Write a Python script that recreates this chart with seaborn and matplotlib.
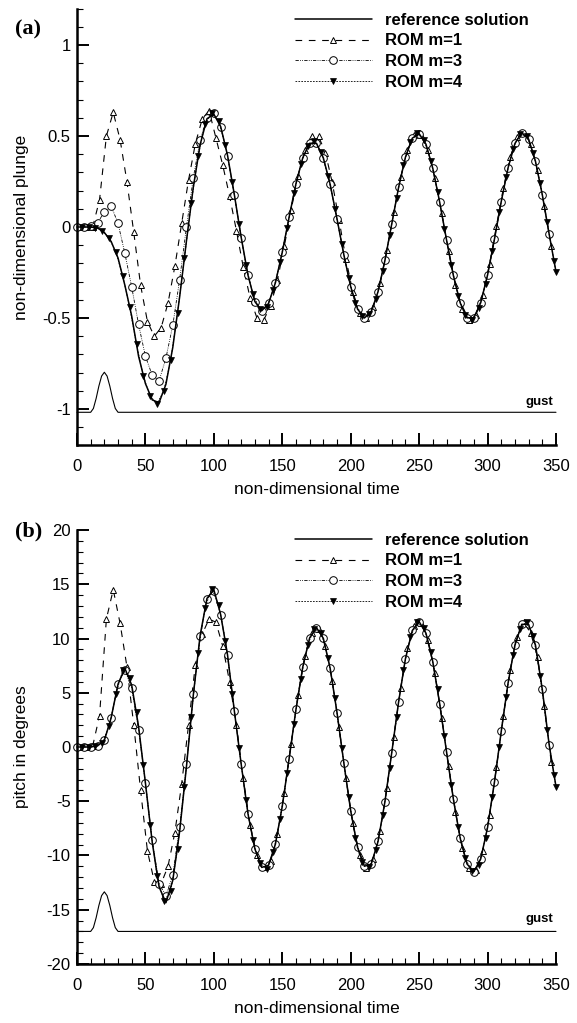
import numpy as np
import matplotlib
matplotlib.use("Agg")
import matplotlib.pyplot as plt
from matplotlib.ticker import MultipleLocator
import seaborn as sns

# sample times of each series (markers sit on every sample)
T_REF = np.arange(0, 351, 5)
T_M3 = np.arange(0, 346, 5)
T_M1 = np.arange(1.5, 350, 5)
T_M4 = np.append(np.arange(3.5, 350, 5), 350)
GUST_T = [0, 10, 12, 14, 16, 18, 20, 22, 24, 26, 28, 30, 350]

# (a) non-dimensional plunge
PLUNGE_REF = [0, 0, 0, -0.005, -0.03, -0.08, -0.17, -0.32, -0.49, -0.71,
              -0.86, -0.95, -0.965, -0.864, -0.662, -0.385, -0.076, 0.219, 0.453, 0.595,
              0.62, 0.552, 0.394, 0.177, -0.058, -0.266, -0.41, -0.46, -0.42, -0.306,
              -0.139, 0.054, 0.238, 0.381, 0.46, 0.46, 0.38, 0.234, 0.045, -0.153,
              -0.328, -0.451, -0.5, -0.466, -0.355, -0.184, 0.017, 0.218, 0.384, 0.488,
              0.513, 0.455, 0.322, 0.137, -0.07, -0.266, -0.417, -0.499, -0.499, -0.416,
              -0.264, -0.068, 0.14, 0.326, 0.459, 0.518, 0.483, 0.361, 0.177, -0.039,
              -0.246]
PLUNGE_M1 = [0, 0, 0, 0.15, 0.5, 0.63, 0.48, 0.25, -0.03, -0.32,
             -0.52, -0.6, -0.553, -0.418, -0.217, 0.02, 0.257, 0.458, 0.593, 0.64,
             0.49, 0.34, 0.17, -0.02, -0.22, -0.39, -0.5, -0.51, -0.433, -0.291,
             -0.105, 0.095, 0.281, 0.423, 0.5, 0.498, 0.409, 0.245, 0.038, -0.175,
             -0.356, -0.47, -0.498, -0.44, -0.309, -0.125, 0.08, 0.273, 0.423, 0.504,
             0.504, 0.422, 0.27, 0.075, -0.132, -0.317, -0.45, -0.51, -0.482, -0.374,
             -0.202, 0.005, 0.212, 0.384, 0.492, 0.518, 0.455, 0.311, 0.114, -0.103]
PLUNGE_M3 = [0, 0, 0.005, 0.02, 0.085, 0.115, 0.02, -0.145, -0.33, -0.535,
             -0.71, -0.815, -0.845, -0.72, -0.54, -0.29, 0.0, 0.27, 0.48, 0.6,
             0.625, 0.55, 0.39, 0.175, -0.06, -0.265, -0.41, -0.46, -0.42, -0.306,
             -0.139, 0.054, 0.238, 0.381, 0.46, 0.46, 0.38, 0.234, 0.045, -0.153,
             -0.328, -0.451, -0.5, -0.466, -0.355, -0.184, 0.017, 0.218, 0.384, 0.488,
             0.513, 0.455, 0.322, 0.137, -0.07, -0.266, -0.417, -0.499, -0.499, -0.416,
             -0.264, -0.068, 0.14, 0.326, 0.459, 0.518, 0.483, 0.361, 0.177, -0.039]
PLUNGE_M4 = [0, 0, -0.003, -0.02, -0.06, -0.14, -0.27, -0.44, -0.645, -0.82,
             -0.93, -0.97, -0.9, -0.73, -0.47, -0.17, 0.13, 0.39, 0.565, 0.625,
             0.58, 0.45, 0.245, 0.015, -0.21, -0.37, -0.45, -0.44, -0.345, -0.19,
             -0.005, 0.185, 0.345, 0.445, 0.47, 0.41, 0.28, 0.1, -0.095, -0.28,
             -0.42, -0.49, -0.48, -0.395, -0.24, -0.045, 0.16, 0.34, 0.465, 0.515,
             0.48, 0.365, 0.195, -0.01, -0.21, -0.38, -0.485, -0.51, -0.445, -0.315,
             -0.13, 0.08, 0.275, 0.43, 0.51, 0.5, 0.405, 0.24, 0.025, -0.185,
             -0.245]
GUST_PLUNGE = [-1.018, -1.018, -0.997, -0.942, -0.874, -0.819, -0.798,
               -0.819, -0.874, -0.942, -0.997, -1.018, -1.018]

# (b) pitch in degrees
PITCH_REF = [0, 0, 0, 0.1, 0.6, 2.7, 5.8, 7.25, 5.7, 1.9,
             -3.3, -8.8, -12.9, -14.35, -12.3, -7.8, -1.8, 4.8, 10.3, 13.7,
             14.5, 12.2, 8.5, 3.3, -1.6, -6.2, -9.4, -11.1, -10.9, -8.95,
             -5.46, -1.08, 3.46, 7.39, 10.06, 11.0, 10.02, 7.25, 3.17, -1.48,
             -5.89, -9.26, -10.99, -10.8, -8.7, -5.05, -0.51, 4.16, 8.15, 10.74,
             11.55, 10.49, 7.85, 4.0, -0.43, -4.8, -8.42, -10.79, -11.49, -10.32,
             -7.42, -3.27, 1.45, 5.91, 9.41, 11.31, 11.3, 9.4, 5.3, 0.2,
             -3.65]
PITCH_M1 = [0, 0, 0.1, 2.9, 11.8, 14.5, 11.4, 7.4, 2.0, -4.0,
            -9.6, -12.4, -12.6, -11.0, -7.9, -3.4, 2.0, 7.6, 10.4, 11.8,
            11.5, 9.3, 6.0, 2.0, -2.9, -7.2, -10.0, -11.1, -10.54, -8.03,
            -4.2, 0.31, 4.76, 8.37, 10.53, 10.91, 9.35, 6.12, 1.8, -2.87,
            -7.03, -9.95, -11.14, -10.35, -7.73, -3.76, 0.91, 5.46, 9.09, 11.19,
            11.41, 9.86, 6.8, 2.71, -1.77, -6.0, -9.3, -11.18, -11.34, -9.62,
            -6.27, -1.88, 2.85, 7.1, 10.14, 11.5, 10.5, 8.3, 3.8, -1.4]
PITCH_M3 = [0, 0, 0, 0.1, 0.65, 2.7, 5.8, 7.1, 5.4, 1.6,
            -3.3, -8.6, -12.6, -13.7, -11.8, -7.4, -1.6, 4.9, 10.2, 13.6,
            14.4, 12.2, 8.5, 3.3, -1.6, -6.2, -9.4, -11.1, -10.9, -8.95,
            -5.46, -1.08, 3.46, 7.39, 10.06, 11.0, 10.02, 7.25, 3.17, -1.48,
            -5.89, -9.26, -10.99, -10.8, -8.7, -5.05, -0.51, 4.16, 8.15, 10.74,
            11.55, 10.49, 7.85, 4.0, -0.43, -4.8, -8.42, -10.79, -11.49, -10.32,
            -7.42, -3.27, 1.45, 5.91, 9.41, 11.31, 11.3, 9.4, 5.3, 0.2]
PITCH_M4 = [0, 0, 0.05, 0.4, 1.9, 4.9, 7.1, 6.4, 3.2, -1.7,
            -7.2, -11.9, -14.2, -13.3, -9.4, -3.7, 2.8, 8.7, 12.8, 14.6,
            13.1, 9.8, 4.9, -0.1, -4.9, -8.6, -10.7, -11.2, -9.7, -6.6,
            -2.4, 2.1, 6.3, 9.4, 10.9, 10.5, 8.2, 4.5, -0.1, -4.6,
            -8.4, -10.6, -11.1, -9.5, -6.3, -1.9, 2.8, 7.1, 10.1, 11.5,
            11.0, 8.8, 5.3, 1.0, -3.5, -7.4, -10.2, -11.45, -10.9, -8.4,
            -4.6, 0.0, 4.6, 8.5, 10.9, 11.55, 10.2, 6.5, 1.6, -2.6,
            -3.65]
GUST_PITCH = [-17.0, -17.0, -16.65, -15.74, -14.61, -13.7, -13.35,
              -13.7, -14.61, -15.74, -16.65, -17.0, -17.0]

LABELS = ["reference solution", "ROM m=1", "ROM m=3", "ROM m=4"]


def draw_panel(ax, ref, m1, m3, m4, gust, ylim, ymaj, ymin, ylabel, gust_y):
    common = dict(ax=ax, color="k", estimator=None, sort=False, clip_on=False)
    sns.lineplot(x=T_M1, y=m1, linewidth=0.8, linestyle=(0, (6, 6)), marker="^",
                 markersize=5, markerfacecolor="w", mec="k", mew=0.7,
                 label=LABELS[1], **common)
    sns.lineplot(x=T_M3, y=m3, linewidth=0.6, linestyle=(0, (4, 1.5, 1, 1.5, 1, 1.5)),
                 marker="o", markersize=5.5, markerfacecolor="w", mec="k", mew=0.7,
                 label=LABELS[2], **common)
    sns.lineplot(x=T_M4, y=m4, linewidth=0.6, linestyle=(0, (2, 1.5)), marker="v",
                 markersize=4, markerfacecolor="k", mec="k", mew=0.5,
                 label=LABELS[3], **common)
    sns.lineplot(x=T_REF, y=ref, linewidth=1.1, label=LABELS[0], **common)
    sns.lineplot(x=GUST_T, y=gust, linewidth=0.8, **common)

    ax.set_xlim(0, 350)
    ax.set_ylim(*ylim)
    ax.xaxis.set_major_locator(MultipleLocator(50))
    ax.xaxis.set_minor_locator(MultipleLocator(10))
    ax.yaxis.set_major_locator(MultipleLocator(ymaj))
    ax.yaxis.set_minor_locator(MultipleLocator(ymin))
    ax.yaxis.set_major_formatter(plt.FuncFormatter(lambda v, p: f"{v:g}"))

    for s in ["top", "right"]:
        ax.spines[s].set_visible(False)
    for s in ["left", "bottom"]:
        ax.spines[s].set_linewidth(1.8)
        ax.spines[s].set_color("k")
    ax.tick_params(which="both", colors="k", labelcolor="k")
    ax.tick_params(which="major", direction="in", length=8.5, width=1.4, labelsize=12)
    ax.tick_params(which="minor", direction="in", length=4.5, width=0.8)
    ax.tick_params(axis="x", which="major", pad=10)
    ax.tick_params(axis="y", which="major", pad=4.5)

    ax.set_xlabel("non-dimensional time", fontsize=12.5, va="center", color="k")
    ax.set_ylabel(ylabel, fontsize=12.5, va="center", color="k")
    ax.xaxis.set_label_coords(0.5, -0.102)
    ax.yaxis.set_label_coords(-0.115, 0.5)

    ax.text(348, gust_y, "gust", ha="right", va="center", fontsize=9.5,
            fontweight="bold", color="k")

    handles, labels = ax.get_legend_handles_labels()
    order = [labels.index(l) for l in LABELS]
    return [handles[i] for i in order]


def main():
    sns.set_style("ticks")
    plt.rcParams["font.family"] = ["Liberation Sans", "DejaVu Sans"]
    plt.rcParams["axes.unicode_minus"] = False
    plt.rcParams["text.color"] = "k"

    fig = plt.figure(figsize=(5.77, 10.23), dpi=100)
    ax_a = fig.add_axes([0.1334, 0.5646, 0.8302, 0.4270])
    ax_b = fig.add_axes([0.1334, 0.0577, 0.8302, 0.4242])

    h_a = draw_panel(ax_a, PLUNGE_REF, PLUNGE_M1, PLUNGE_M3, PLUNGE_M4, GUST_PLUNGE,
                     (-1.2, 1.2), 0.5, 0.1, "non-dimensional plunge", -0.96)
    h_b = draw_panel(ax_b, PITCH_REF, PITCH_M1, PITCH_M3, PITCH_M4, GUST_PITCH,
                     (-20, 20), 5, 1, "pitch in degrees", -15.9)

    for ax, handles, top in [(ax_a, h_a, 0.9876), (ax_b, h_b, 0.4793)]:
        leg = ax.legend(handles, LABELS, loc="upper left", bbox_to_anchor=(0.511, top),
                        bbox_transform=fig.transFigure, frameon=False, borderpad=0,
                        borderaxespad=0, handlelength=4.6, handletextpad=0.8,
                        labelspacing=0.34, prop={"weight": "bold", "size": 12})
        for t in leg.get_texts():
            t.set_color("k")

    fig.text(15 / 577, 1 - 29 / 1023, "(a)", family="Liberation Serif",
             fontweight="bold", fontsize=16, va="center", ha="left", color="k")
    fig.text(15 / 577, 1 - 531 / 1023, "(b)", family="Liberation Serif",
             fontweight="bold", fontsize=16, va="center", ha="left", color="k")

    fig.savefig("out.png", dpi=100)


if __name__ == "__main__":
    main()
